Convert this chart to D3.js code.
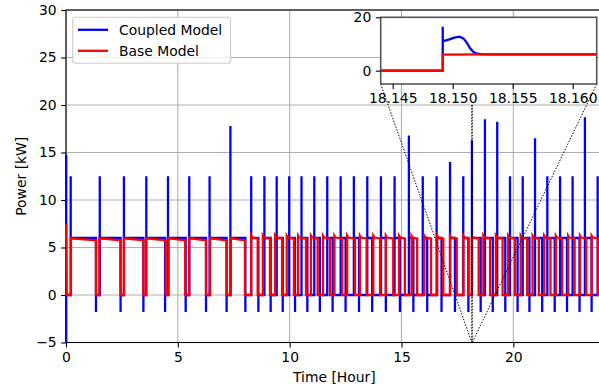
<!DOCTYPE html>
<html>
<head>
<meta charset="utf-8">
<script src="https://cdn.jsdelivr.net/npm/d3@7"></script>
<style>
  body { margin: 0; background: #fff; }
  svg { display: block; font-family: "DejaVu Sans", sans-serif; }
</style>
</head>
<body>
<svg id="chart" width="599" height="387"></svg>
<script>
// ---- data (time in hours, power in kW) ----
const blueStart = 14.8;
const blueLevel = 6.0;
const blueOn = [0.21, 1.51, 2.59, 3.59, 4.56, 5.51, 6.42, 7.35, 8.28, 8.87, 9.42, 9.98,
  10.53, 11.10, 11.68, 12.28, 12.87, 13.47, 14.08, 14.69, 15.33, 15.95, 16.57, 17.17,
  17.76, 18.149, 18.73, 19.28, 19.85, 20.42, 20.97, 21.52, 22.09, 22.65, 23.2, 23.77];
const bluePeak = [12.5, 12.5, 12.5, 12.5, 12.5, 12.5, 12.5, 17.8, 12.5, 12.5, 12.5, 12.5,
  12.5, 12.5, 12.5, 12.5, 12.5, 12.5, 12.5, 12.5, 16.8, 12.5, 12.5, 14.0,
  12.5, 16.3, 18.5, 18.25, 12.5, 12.5, 16.5, 12.5, 12.5, 12.5, 18.7, 12.5];
const blueOff = [0, 1.34, 2.44, 3.46, 4.43, 5.35, 6.26, 7.18, 8.02, 8.6, 9.15, 9.69,
  10.24, 10.79, 11.35, 11.92, 12.5, 13.1, 13.69, 14.3, 14.93, 15.53, 16.15, 16.79,
  17.39, 17.99, 18.54, 19.08, 19.64, 20.19, 20.72, 21.29, 21.85, 22.4, 22.96, 23.5];
const blueDip = [-6, -1.8, -1.8, -1.8, -1.8, -1.8, -1.8, -1.8, -1.8, -1.8, -1.8, -1.8,
  -1.8, -1.8, -1.8, -1.8, -1.8, -1.8, -1.8, -1.8, -1.8, -1.8, -1.8, -1.8,
  -1.8, -1.8, -1.8, -1.8, -1.8, -1.8, -1.8, -1.8, -1.8, -1.8, -1.8, -1.8];

const redStart = 7.5;
const redRise = [0.22, 1.49, 2.59, 3.58, 4.59, 5.51, 6.44, 7.37, 8.28, 8.8, 9.35, 9.87,
  10.38, 10.95, 11.49, 12.0, 12.57, 13.14, 13.74, 14.3, 14.89, 15.45, 16.02, 16.6,
  17.17, 17.77, 18.149, 18.66, 19.22, 19.77, 20.33, 20.86, 21.38, 21.9, 22.45, 22.98, 23.5];
const redFall = [1.34, 2.44, 3.46, 4.46, 5.33, 6.26, 7.18, 8.0, 8.57, 9.12, 9.66, 10.19,
  10.73, 11.25, 11.8, 12.35, 12.92, 13.44, 14.04, 14.63, 15.15, 15.7, 16.32, 16.87,
  17.47, 18.0, 18.45, 18.96, 19.52, 20.07, 20.62, 21.14, 21.66, 22.18, 22.74, 23.26, 23.78];
// red plateau: value just after switching on, after the short overshoot, and at switch-off
const redPeak = [6.0, 6.0, 6.0, 6.0, 6.0, 6.0, 6.0, 6.0, 6.25, 6.25, 6.25, 6.25,
  6.25, 6.25, 6.25, 6.25, 6.25, 6.25, 6.25, 6.25, 6.25, 6.25, 6.25, 6.25,
  6.25, 6.25, 6.0, 6.25, 6.25, 6.25, 6.25, 6.25, 6.25, 6.25, 6.25, 6.25, 6.25];
const redSettle = [5.95, 5.95, 5.95, 5.95, 5.95, 5.95, 5.95, 5.95, 6.05, 6.05, 6.05, 6.05,
  6.05, 6.05, 6.05, 6.05, 6.05, 6.05, 6.05, 6.05, 6.05, 6.05, 6.05, 6.05,
  6.05, 6.05, 6.05, 6.05, 6.05, 6.05, 6.05, 6.05, 6.05, 6.05, 6.05, 6.05, 6.05];
const redEnd = [5.75, 5.75, 5.75, 5.75, 5.75, 5.75, 5.75, 5.75, 5.95, 5.95, 5.95, 5.95,
  5.95, 5.95, 5.95, 5.95, 5.95, 5.95, 5.95, 5.95, 5.95, 5.95, 5.95, 5.95,
  5.95, 5.95, 5.95, 5.95, 5.95, 5.95, 5.95, 5.95, 5.95, 5.95, 5.95, 5.95, 5.95];

// zoomed window around the switch-on at ~18.15 h
const zoomBlueT = [18.144, 18.14917, 18.14917, 18.14917, 18.14931, 18.14972, 18.15014, 18.15056,
  18.15089, 18.15117, 18.15145, 18.15173, 18.1520, 18.15237, 18.1530, 18.162];
const zoomBlueV = [0, 0, 16.5, 10.9, 11.2, 11.75, 12.4, 12.75, 12.1, 10.5, 8.4, 7.0, 6.4, 6.2, 6.1, 6.1];
const zoomRedT = [18.144, 18.14917, 18.14917, 18.1525, 18.162];
const zoomRedV = [0, 0, 6.0, 6.1, 6.1];

const xTicks = [0, 5, 10, 15, 20];
const yTicks = [-5, 0, 5, 10, 15, 20, 25, 30];
const zoomXTicks = [18.145, 18.150, 18.155, 18.160];
const zoomYTicks = [0, 20];
const seriesNames = ["Coupled Model", "Base Model"];
const seriesColors = ["#0000ff", "#ff0000"];

// ---- build step traces from the switching events ----
function bluePoints() {
  const ev = blueOn.map((t, i) => ({ t, on: true, v: bluePeak[i] }))
    .concat(blueOff.map((t, i) => ({ t, on: false, v: blueDip[i] })))
    .sort((a, b) => a.t - b.t);
  const pts = [[0.01, blueStart]];
  ev.forEach(e => {
    const t = Math.max(e.t, 0.01);
    if (e.on) pts.push([t, 0], [t, e.v], [t, blueLevel]);
    else pts.push([t, e.t === 0 ? blueStart : blueLevel], [t, e.v], [t, 0]);
  });
  pts.push([24, blueLevel]);
  return pts;
}
function redPoints() {
  const pts = [[0.01, redStart], [0.03, 0]];
  redRise.forEach((t, i) => {
    const f = redFall[i];
    pts.push([t, 0], [t, redPeak[i]], [Math.min(t + 0.05, f), redSettle[i]],
      [f, redEnd[i]], [f, 0]);
  });
  pts.push([24, 0]);
  return pts;
}

// ---- main axes ----
const svg = d3.select("#chart");
const x = d3.scaleLinear().domain([0, 24]).range([66, 602.8]);
const y = d3.scaleLinear().domain([-5, 30]).range([342.5, 10]);
const grid = "#b0b0b0";
const lw = 2.3;

svg.append("defs").append("clipPath").attr("id", "mainClip")
  .append("rect").attr("x", x(0) - 2).attr("y", y(30))
  .attr("width", x(24) - x(0) + 2).attr("height", y(-5) - y(30));

const gGrid = svg.append("g");
gGrid.selectAll("line.vx").data(xTicks).join("line")
  .attr("x1", d => x(d)).attr("x2", d => x(d)).attr("y1", y(30)).attr("y2", y(-5))
  .attr("stroke", grid).attr("stroke-width", 1.1);
gGrid.selectAll("line.hy").data(yTicks).join("line")
  .attr("y1", d => y(d)).attr("y2", d => y(d)).attr("x1", x(0)).attr("x2", x(24))
  .attr("stroke", grid).attr("stroke-width", 1.1);

// spines (right side falls outside the picture)
svg.append("rect").attr("x", x(0)).attr("y", y(30))
  .attr("width", x(24) - x(0)).attr("height", y(-5) - y(30))
  .attr("fill", "none").attr("stroke", "#000").attr("stroke-width", 1.1);

const line = d3.line().x(d => x(d[0])).y(d => y(d[1]));
const plot = svg.append("g").attr("clip-path", "url(#mainClip)");
plot.append("path").attr("d", line(bluePoints()))
  .attr("fill", "none").attr("stroke", seriesColors[0]).attr("stroke-width", lw);
plot.append("path").attr("d", line(redPoints()))
  .attr("fill", "none").attr("stroke", seriesColors[1]).attr("stroke-width", lw);

const xAxis = d3.axisBottom(x).tickValues(xTicks).tickSize(4.9).tickPadding(4.5).tickFormat(d3.format("d"));
const yAxis = d3.axisLeft(y).tickValues(yTicks).tickSize(4.9).tickPadding(4.5).tickFormat(d => d < 0 ? "\u2212" + Math.abs(d) : d);
function styleAxis(g) {
  g.select(".domain").remove();
  g.selectAll(".tick line").attr("stroke", "#000").attr("stroke-width", 1.1);
  g.selectAll(".tick text").attr("fill", "#000").style("font-size", "13.9px")
    .style("font-family", "DejaVu Sans");
}
svg.append("g").attr("transform", `translate(0,${y(-5)})`).call(xAxis).call(styleAxis);
svg.append("g").attr("transform", `translate(${x(0)},0)`).call(yAxis).call(styleAxis);

svg.append("text").attr("x", (x(0) + x(24)) / 2).attr("y", 382)
  .attr("text-anchor", "middle").style("font-size", "13.9px").text("Time [Hour]");
svg.append("text").attr("transform", `translate(25.5,${(y(30) + y(-5)) / 2}) rotate(-90)`)
  .attr("text-anchor", "middle").style("font-size", "13.9px").text("Power [kW]");

// ---- legend ----
const leg = svg.append("g");
leg.append("rect").attr("x", 72.7).attr("y", 17.3).attr("width", 157.8).attr("height", 46)
  .attr("rx", 3).attr("fill", "#fff").attr("fill-opacity", 0.8)
  .attr("stroke", "#cccccc").attr("stroke-width", 1.1);
seriesNames.forEach((name, i) => {
  const yy = 29.8 + i * 21;
  leg.append("line").attr("x1", 78).attr("x2", 108).attr("y1", yy).attr("y2", yy)
    .attr("stroke", seriesColors[i]).attr("stroke-width", lw);
  leg.append("text").attr("x", 119).attr("y", yy + 5).style("font-size", "13.9px").text(name);
});

// ---- inset ----
const zx = d3.scaleLinear().domain([18.144, 18.162]).range([380.7, 596.7]);
const zy = d3.scaleLinear().domain([-5, 20]).range([84, 17.3]);

// zoom marker and connectors on the main axes
const dots = "1.4,1.6";
svg.append("rect").attr("x", x(18.144)).attr("y", y(20))
  .attr("width", x(18.162) - x(18.144)).attr("height", y(-5) - y(20))
  .attr("fill", "none").attr("stroke", "#000").attr("stroke-width", 1)
  .attr("stroke-dasharray", dots);
[[18.144, 18.144], [18.162, 18.162]].forEach(([a, b]) => {
  svg.append("line").attr("x1", zx(a)).attr("y1", zy(-5)).attr("x2", x(b)).attr("y2", y(-5))
    .attr("stroke", "#000").attr("stroke-width", 1).attr("stroke-dasharray", dots);
});

svg.append("defs").append("clipPath").attr("id", "zoomClip")
  .append("rect").attr("x", zx(18.144)).attr("y", zy(20))
  .attr("width", zx(18.162) - zx(18.144)).attr("height", zy(-5) - zy(20));

const inset = svg.append("g");
inset.append("rect").attr("x", zx(18.144)).attr("y", zy(20))
  .attr("width", zx(18.162) - zx(18.144)).attr("height", zy(-5) - zy(20)).attr("fill", "#fff");
const zline = d3.line().x(d => zx(d[0])).y(d => zy(d[1]));
const zp = inset.append("g").attr("clip-path", "url(#zoomClip)");
zp.append("path").attr("d", zline(zoomBlueT.map((t, i) => [t, zoomBlueV[i]])))
  .attr("fill", "none").attr("stroke", seriesColors[0]).attr("stroke-width", lw);
zp.append("path").attr("d", zline(zoomRedT.map((t, i) => [t, zoomRedV[i]])))
  .attr("fill", "none").attr("stroke", seriesColors[1]).attr("stroke-width", lw);
inset.append("rect").attr("x", zx(18.144)).attr("y", zy(20))
  .attr("width", zx(18.162) - zx(18.144)).attr("height", zy(-5) - zy(20))
  .attr("fill", "none").attr("stroke", "#555").attr("stroke-width", 1.6);

const zxAxis = d3.axisBottom(zx).tickValues(zoomXTicks).tickSize(4.9).tickPadding(4.5).tickFormat(d3.format(".3f"));
const zyAxis = d3.axisLeft(zy).tickValues(zoomYTicks).tickSize(4.9).tickPadding(4.5).tickFormat(d3.format("d"));
inset.append("g").attr("transform", `translate(0,${zy(-5)})`).call(zxAxis).call(styleAxis);
inset.append("g").attr("transform", `translate(${zx(18.144)},0)`).call(zyAxis).call(styleAxis);
</script>
</body>
</html>
